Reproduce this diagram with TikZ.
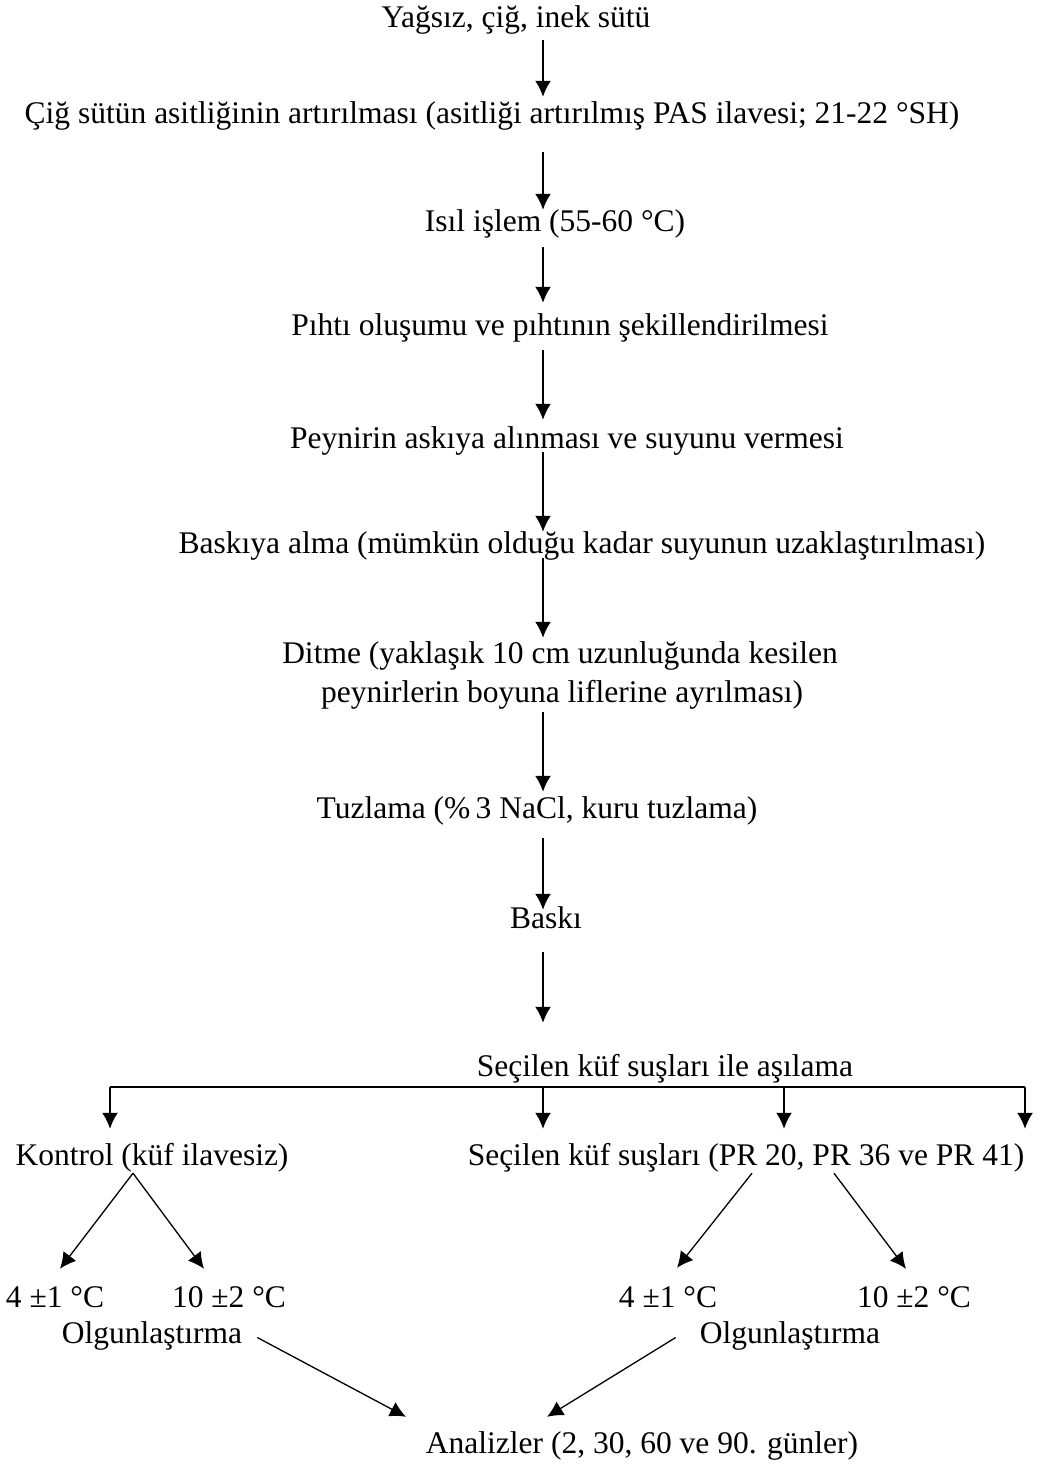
\documentclass[tikz,border=0pt]{standalone}
\usepackage{fontspec}
\setmainfont{Liberation Serif}
\usetikzlibrary{arrows.meta}

\tikzset{stage/.style={inner sep=0pt,text height=23pt,text depth=8pt,anchor=base,
		font=\fontsize{31.5}{38}\selectfont}}
\tikzset{flow/.style={->,line width=1.9pt}}
\tikzset{split/.style={->,line width=1.3pt}}

\begin{document}
\begin{tikzpicture}[x=1pt,y=-1pt]
	\useasboundingbox (0,0) rectangle (1048,1465);
	\begin{scope}[>={Latex[length=16pt,width=16pt]}] %filled arrow tips
		% main line of steps
		\node[stage] (t1) at (516,27) {Yağsız, çiğ, inek sütü};
		\node[stage] (t2) at (492,123) {Çiğ sütün asitliğinin artırılması (asitliği artırılmış PAS ilavesi; 21-22 °SH)};
		\node[stage] (t3) at (555,231) {Isıl işlem (55-60 °C)};
		\node[stage] (t4) at (560,335) {Pıhtı oluşumu ve pıhtının şekillendirilmesi};
		\node[stage] (t5) at (567,448) {Peynirin askıya alınması ve suyunu vermesi};
		\node[stage] (t6) at (582,553) {Baskıya alma (mümkün olduğu kadar suyunun uzaklaştırılması)};
		\node[stage] (t7) at (560,663) {Ditme (yaklaşık 10 cm uzunluğunda kesilen};
		\node[stage] (t7b) at (562,702) {peynirlerin boyuna liflerine ayrılması)};
		\node[stage] (t8) at (537,818) {Tuzlama (\%\,3 NaCl, kuru tuzlama)};
		\node[stage] (t9) at (546,928) {Baskı};
		\node[stage] (t10) at (665,1076) {Seçilen küf suşları ile aşılama};
		\coordinate (ax) at (543,0);
		\foreach \a/\b/\s/\e in {t1/t2/5pt/3pt, t2/t3/21pt/-2pt, t3/t4/8pt/9pt,
				t4/t5/7pt/5pt, t5/t6/-4pt/-2pt, t6/t7/-3pt/2pt, t7b/t8/2pt/3pt,
				t8/t9/12pt/-5pt, t9/t10/16pt/30pt}{
			\draw[flow,shorten <=\s,shorten >=\e] (\a.south -| ax) -- (\b.north -| ax);
		}
		% the two groups
		\node[stage] (kon) at (152,1165) {Kontrol (küf ilavesiz)};
		\node[stage] (pr) at (746,1165) {Seçilen küf suşları (PR 20, PR 36 ve PR 41)};
		\coordinate (b1) at (110,1087);
		\coordinate (b2) at (543,1087);
		\coordinate (b3) at (784,1087);
		\coordinate (b4) at (1025,1087);
		\draw[line width=1.9pt] (b1) -- (b4);
		\draw[flow,shorten >=13pt] (b1) -- (b1 |- kon.north);
		\foreach \b in {b2,b3,b4}{
			\draw[flow,shorten >=13pt] (\b) -- (\b |- pr.north);
		}
		% ripening temperatures
		\node[stage] (la) at (55,1307) {4 ±1 °C};
		\node[stage] (lb) at (229,1307) {10 ±2 °C};
		\node[stage] (lo) at (152,1343) {Olgunlaştırma};
		\node[stage] (ra) at (668,1307) {4 ±1 °C};
		\node[stage] (rb) at (914,1307) {10 ±2 °C};
		\node[stage] (ro) at (790,1343) {Olgunlaştırma};
		\node[stage] (an) at (642,1453) {Analizler (2, 30, 60 ve 90. günler)};
		\draw[split] ([xshift=-19pt]kon.south) -- ([xshift=5pt,yshift=15pt]la.north);
		\draw[split] ([xshift=-19pt]kon.south) -- ([xshift=-25pt,yshift=15pt]lb.north);
		\draw[split] ([xshift=6pt]pr.south) -- ([xshift=9pt,yshift=16pt]ra.north);
		\draw[split] ([xshift=88pt]pr.south) -- ([xshift=-8pt,yshift=15pt]rb.north);
		\draw[split] ([xshift=15pt,yshift=-2pt]lo.east) -- ([xshift=-236pt,yshift=13pt]an.north);
		\draw[split] ([xshift=-24pt,yshift=-2pt]ro.west) -- ([xshift=-95pt,yshift=13pt]an.north);
	\end{scope}
\end{tikzpicture}
\end{document}
